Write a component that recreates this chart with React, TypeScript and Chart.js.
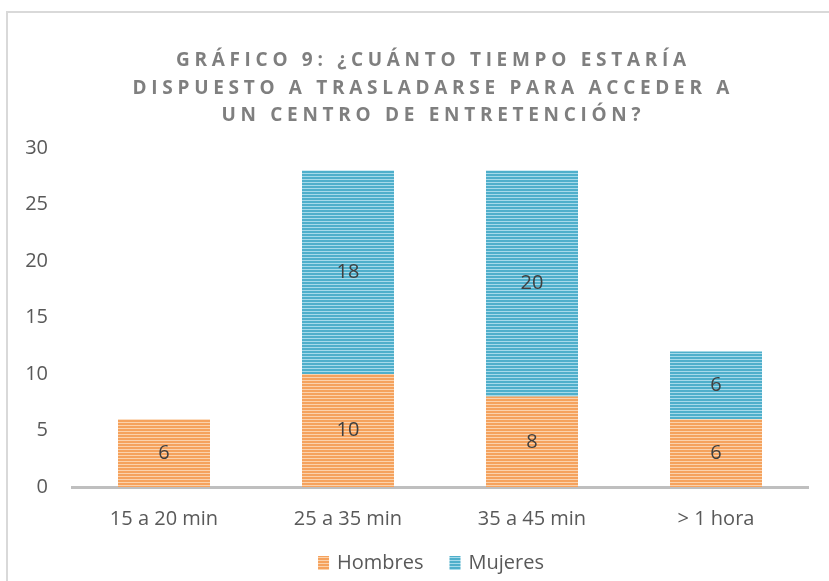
import React, { useEffect, useRef } from "react";
import { Chart, registerables } from "chart.js";

Chart.register(...registerables);

const categories = ["15 a 20 min", "25 a 35 min", "35 a 45 min", "> 1 hora"];
const hombres = [6, 10, 8, 6];
const mujeres = [0, 18, 20, 6];
const titleLines = [
  "GRÁFICO 9: ¿CUÁNTO TIEMPO ESTARÍA",
  "DISPUESTO A TRASLADARSE PARA ACCEDER A",
  "UN CENTRO DE ENTRETENCIÓN?",
];
const yMin = 0;
const yMax = 30;
const yStep = 5;

const FONT = "'Open Sans', 'DejaVu Sans', sans-serif";
const FS = 20;

function makeStripes(dark: string, light: string): CanvasPattern | string {
  const c = document.createElement("canvas");
  c.width = 4;
  c.height = 3;
  const g = c.getContext("2d");
  if (!g) return dark;
  g.fillStyle = dark;
  g.fillRect(0, 0, 4, 3);
  g.fillStyle = light;
  g.fillRect(0, 2, 4, 1);
  const p = g.createPattern(c, "repeat");
  return p || dark;
}

const framePlugin = {
  id: "frame",
  beforeDraw(chart: any) {
    const ctx = chart.ctx;
    ctx.save();
    ctx.fillStyle = "#D9D9D9";
    ctx.fillRect(6, 11, 2, chart.height - 11);
    ctx.fillRect(6, 11, chart.width - 6, 2);
    ctx.restore();
  },
};

const titlePlugin = {
  id: "spacedTitle",
  afterDraw(chart: any) {
    const ctx = chart.ctx;
    ctx.save();
    ctx.font = `bold 19px ${FONT}`;
    ctx.fillStyle = "#7F7F7F";
    ctx.textAlign = "left";
    ctx.textBaseline = "middle";
    const ls = 4.7;
    (ctx as any).letterSpacing = `${ls}px`;
    const cx = 431;
    titleLines.forEach((line, i) => {
      const w = ctx.measureText(line).width - ls;
      ctx.fillText(line, cx - w / 2, 61 + i * 27.5);
    });
    ctx.restore();
  },
};

const valueLabelPlugin = {
  id: "valueLabels",
  afterDatasetsDraw(chart: any) {
    const ctx = chart.ctx;
    ctx.save();
    ctx.font = `${FS}px ${FONT}`;
    ctx.fillStyle = "#404040";
    ctx.textAlign = "center";
    ctx.textBaseline = "middle";
    chart.data.datasets.forEach((ds: any, di: number) => {
      const meta = chart.getDatasetMeta(di);
      meta.data.forEach((el: any, i: number) => {
        const v = ds.data[i];
        if (!v) return;
        ctx.fillText(String(v), el.x, (el.y + el.base) / 2);
      });
    });
    ctx.restore();
  },
};

const legendPlugin = {
  id: "bottomLegend",
  afterDraw(chart: any) {
    const ctx = chart.ctx;
    ctx.save();
    ctx.font = `${FS}px ${FONT}`;
    ctx.textBaseline = "middle";
    ctx.textAlign = "left";
    const boxW = 11;
    const boxH = 14;
    const textGap = 8;
    const itemGap = 26;
    const items = chart.data.datasets.map((ds: any) => ({
      label: ds.label,
      fill: ds.backgroundColor,
      w: ctx.measureText(ds.label).width,
    }));
    const total =
      items.reduce((s: number, it: any) => s + boxW + textGap + it.w, 0) + itemGap * (items.length - 1);
    const cy = 563;
    let x = 431 - total / 2;
    items.forEach((it: any) => {
      ctx.fillStyle = it.fill;
      ctx.fillRect(x, cy - boxH / 2, boxW, boxH);
      x += boxW + textGap;
      ctx.fillStyle = "#595959";
      ctx.fillText(it.label, x, cy);
      x += it.w + itemGap;
    });
    ctx.restore();
  },
};

export default function App() {
  const ref = useRef<HTMLCanvasElement | null>(null);

  useEffect(() => {
    if (!ref.current) return;
    const orange = makeStripes("#F5A25D", "#FBD2AC");
    const blue = makeStripes("#4FAFCB", "#A6DAEA");
    const chart = new Chart(ref.current, {
      type: "bar",
      data: {
        labels: categories,
        datasets: [
          { label: "Hombres", data: hombres, backgroundColor: orange as any, borderWidth: 0 },
          { label: "Mujeres", data: mujeres, backgroundColor: blue as any, borderWidth: 0 },
        ],
      },
      options: {
        responsive: false,
        animation: false,
        devicePixelRatio: 1,
        layout: { padding: { top: 148, left: 0, right: 21, bottom: 40 } },
        datasets: { bar: { barPercentage: 0.5, categoryPercentage: 1 } },
        plugins: {
          title: { display: false },
          tooltip: { enabled: false },
          legend: { display: false },
        },
        scales: {
          x: {
            stacked: true,
            grid: { display: false, drawTicks: false },
            border: { display: true, color: "#BFBFBF", width: 3 },
            ticks: { color: "#595959", font: { family: FONT, size: FS }, padding: 20 },
            afterFit: (s: any) => {
              s.height = 54;
            },
          },
          y: {
            stacked: true,
            min: yMin,
            max: yMax,
            grid: { display: false, drawTicks: false },
            border: { display: false },
            ticks: { stepSize: yStep, color: "#595959", font: { family: FONT, size: FS }, padding: 24 },
            afterFit: (s: any) => {
              s.width = 72;
            },
          },
        },
      },
      plugins: [framePlugin, titlePlugin, valueLabelPlugin, legendPlugin],
    });
    return () => chart.destroy();
  }, []);

  return (
    <div style={{ position: "fixed", left: 0, top: 0, width: 829, height: 581, background: "#fff" }}>
      <canvas ref={ref} width={829} height={581} style={{ display: "block" }} />
    </div>
  );
}
